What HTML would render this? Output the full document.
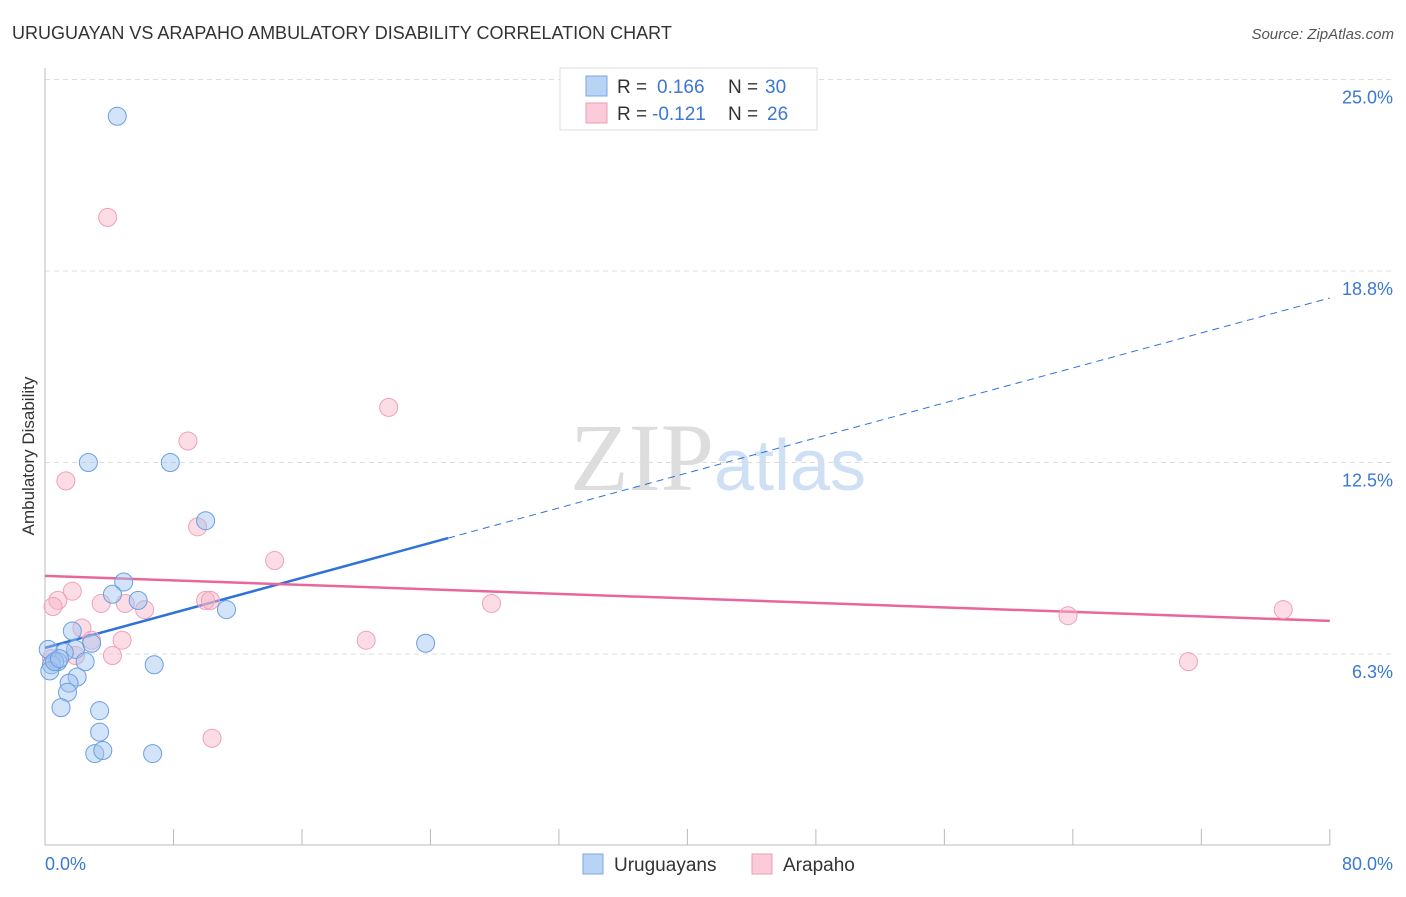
<!DOCTYPE html>
<html><head><meta charset="utf-8"><style>
body{margin:0;background:#fff;font-family:"Liberation Sans",sans-serif}
</style></head><body>
<svg id="chart" width="1406" height="892" xmlns="http://www.w3.org/2000/svg" font-family="Liberation Sans, sans-serif">
<text x="12" y="39" font-size="18" fill="#333">URUGUAYAN VS ARAPAHO AMBULATORY DISABILITY CORRELATION CHART</text>
<text x="1394" y="39" font-size="15" fill="#555" text-anchor="end" font-style="italic">Source: ZipAtlas.com</text>
<text transform="translate(34,456) rotate(-90)" font-size="17" fill="#333" text-anchor="middle">Ambulatory Disability</text>
<text x="718" y="490" font-size="96" text-anchor="middle" fill="#ddd" font-family="Liberation Serif, serif">ZIP<tspan fill="#cfe0f5" font-family="Liberation Sans, sans-serif" font-size="72">atlas</tspan></text>
<g id="grid"></g><g id="axes"></g><g id="lines"></g><g id="points"></g>
<g>
<rect x="560" y="68" width="257" height="62" fill="#fff" stroke="#ddd"/>
<rect x="586" y="76" width="21" height="20" fill="#b9d3f5" stroke="#7aa7e6"/>
<rect x="586" y="103" width="21" height="20" fill="#fbcbd9" stroke="#f09ab5"/>
<text x="617" y="93" font-size="19" fill="#333">R = <tspan x="657" fill="#3a78d4">0.166</tspan><tspan x="728">N = </tspan><tspan x="765" fill="#3a78d4">30</tspan></text>
<text x="617" y="120" font-size="19" fill="#333">R = <tspan x="652" fill="#3a78d4">-0.121</tspan><tspan x="728">N = </tspan><tspan x="767" fill="#3a78d4">26</tspan></text>
</g>
<g>
<rect x="583" y="854" width="20" height="20" fill="#b9d3f5" stroke="#7aa7e6"/>
<text x="614" y="871" font-size="19" fill="#333">Uruguayans</text>
<rect x="752" y="854" width="20" height="20" fill="#fbcbd9" stroke="#f09ab5"/>
<text x="783" y="871" font-size="19" fill="#333">Arapaho</text>
</g>
</svg>
<script>
const yTicks=[6.3,12.5,18.8,25.0];
const yTickVals=[6.25,12.5,18.75,25];
const xLabels=["0.0%","80.0%"];
const blueX=[4.5,2.7,7.8,10.0,4.9,4.2,5.8,11.3,1.7,2.9,23.7,1.9,1.2,0.2,0.8,2.5,6.8,0.4,0.3,2.0,1.5,1.4,1.0,3.4,3.4,3.1,3.6,6.7,0.6,0.9];
const blueY=[23.8,12.5,12.5,10.6,8.6,8.2,8.0,7.7,7.0,6.6,6.6,6.4,6.3,6.4,6.0,6.0,5.9,5.9,5.7,5.5,5.3,5.0,4.5,4.4,3.7,3.0,3.1,3.0,6.0,6.1];
const pinkX=[3.9,1.3,8.9,21.4,9.5,14.3,1.7,0.8,0.5,3.5,5.0,6.2,10.0,10.3,27.8,2.3,2.9,4.8,20.0,4.2,1.9,63.7,71.2,77.1,10.4,0.4];
const pinkY=[20.5,11.9,13.2,14.3,10.4,9.3,8.3,8.0,7.8,7.9,7.9,7.7,8.0,8.0,7.9,7.1,6.7,6.7,6.7,6.2,6.2,7.5,6.0,7.7,3.5,6.1];
const blueFit=[6.45,17.87], pinkFit=[8.80,7.33], blueSolidEnd=25.1;
const X=v=>45+v*16.06, Y=v=>845.5-v*30.64;
const NS="http://www.w3.org/2000/svg";
function mk(t,a,p){const e=document.createElementNS(NS,t);for(const k in a)e.setAttribute(k,a[k]);document.getElementById(p).appendChild(e);return e;}
yTickVals.forEach((v,i)=>{
 const g=mk('line',{x1:45,x2:1395,y1:Y(v),y2:Y(v),stroke:'#ddd','stroke-dasharray':'5,4'},'grid');
 
 
 const t=mk('text',{x:1393,y:Y(v)+24,'font-size':18,fill:'#3a78d4','text-anchor':'end'},'axes');
 t.textContent=yTicks[i].toFixed(1)+'%';
 
 
});
const ax=mk('line',{x1:45,x2:1330,y1:845,y2:845,stroke:'#bbb'},'axes');


const ay=mk('line',{x1:45,x2:45,y1:68,y2:845,stroke:'#bbb'},'axes');


for(let i=1;i<=10;i++){const t=mk('line',{x1:X(i*8),x2:X(i*8),y1:829,y2:845,stroke:'#bbb'},'axes');
 
 }
xLabels.forEach((s,i)=>{const t=mk('text',{x:i?1393:45,y:870,'font-size':18,fill:'#3a78d4','text-anchor':i?'end':'start'},'axes');t.textContent=s;
 
 });
const bf=v=>blueFit[0]+(blueFit[1]-blueFit[0])*v/80, pf=v=>pinkFit[0]+(pinkFit[1]-pinkFit[0])*v/80;
let l=mk('line',{x1:X(0),y1:Y(bf(0)),x2:X(blueSolidEnd),y2:Y(bf(blueSolidEnd)),stroke:'#2f72d8','stroke-width':2.5},'lines');


l=mk('line',{x1:X(blueSolidEnd),y1:Y(bf(blueSolidEnd)),x2:X(80),y2:Y(bf(80)),stroke:'#2f72d8','stroke-width':1,'stroke-dasharray':'7,5'},'lines');


l=mk('line',{x1:X(0),y1:Y(pf(0)),x2:X(80),y2:Y(pf(80)),stroke:'#e8679a','stroke-width':2.5},'lines');


pinkX.forEach((v,i)=>{const c=mk('circle',{cx:X(v),cy:Y(pinkY[i]),r:9,fill:'rgba(248,180,200,0.45)',stroke:'#f0a0b8','stroke-width':1},'points');
 
 });
blueX.forEach((v,i)=>{const c=mk('circle',{cx:X(v),cy:Y(blueY[i]),r:9,fill:'rgba(160,195,240,0.45)',stroke:'#6a9fe0','stroke-width':1},'points');
 
 });
</script>
</body></html>
